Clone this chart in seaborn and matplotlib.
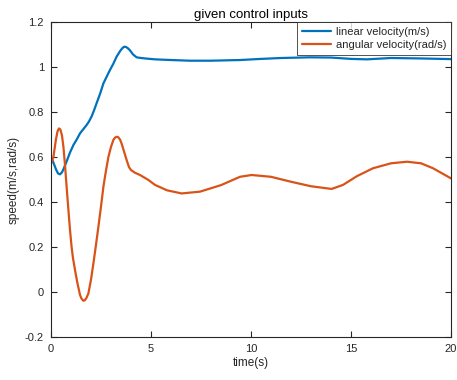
import matplotlib
matplotlib.use("Agg")
import matplotlib.pyplot as plt
import seaborn as sns
import pandas as pd

# Linear velocity (m/s) readings
t_lin = [0.0, 0.12, 0.25, 0.35, 0.45, 0.55, 0.62, 0.78, 0.95, 1.12, 1.3, 1.45, 1.6, 1.78, 1.9, 2.03, 2.15, 2.28, 2.45,
         2.62, 2.8, 2.95, 3.12, 3.28, 3.45, 3.55, 3.65, 3.75, 3.85, 3.95, 4.1, 4.28, 4.5, 4.7, 5.2, 6.0,
         6.95, 8.0, 9.45, 10.5, 11.5, 12.95, 14.0, 15.0, 15.8, 17.0, 18.5, 20.0]
v_lin = [0.60, 0.575, 0.545, 0.527, 0.523, 0.532, 0.545, 0.58, 0.62, 0.653, 0.68, 0.705, 0.722, 0.742, 0.758, 0.78, 0.807, 0.839, 0.88,
         0.927, 0.96, 0.987, 1.015, 1.046, 1.07, 1.082, 1.09, 1.089, 1.083, 1.074, 1.056, 1.043, 1.04, 1.038, 1.034, 1.031,
         1.028, 1.028, 1.031, 1.036, 1.04, 1.043, 1.042, 1.036, 1.034, 1.04, 1.038, 1.035]

# Angular velocity (rad/s) readings
t_ang = [0.0, 0.12, 0.25, 0.33, 0.4, 0.47, 0.55, 0.62, 0.7, 0.78, 0.87, 0.95, 1.03, 1.1, 1.2, 1.32, 1.45, 1.53, 1.62, 1.7, 1.78, 1.87,
         2.0, 2.12, 2.25, 2.37, 2.5, 2.62, 2.75, 2.87, 3.0, 3.12, 3.2, 3.28, 3.36, 3.45, 3.53, 3.65, 3.78,
         3.9, 4.0, 4.2, 4.45, 4.87, 5.2, 5.8, 6.53, 7.45, 8.5, 9.45, 10.03, 11.0, 12.0, 13.0,
         14.03, 14.6, 15.3, 16.1, 17.0, 17.8, 18.5, 19.1, 20.0]
v_ang = [0.57, 0.60, 0.68, 0.715, 0.727, 0.722, 0.695, 0.646, 0.565, 0.468, 0.365, 0.276, 0.2, 0.15, 0.098, 0.04, -0.013, -0.03, -0.039, -0.036, -0.025, -0.006,
         0.055, 0.127, 0.21, 0.29, 0.38, 0.468, 0.54, 0.60, 0.645, 0.676, 0.686, 0.69, 0.688, 0.678, 0.66, 0.625, 0.587,
         0.555, 0.542, 0.53, 0.52, 0.498, 0.476, 0.452, 0.438, 0.446, 0.475, 0.512, 0.52, 0.512, 0.49, 0.47,
         0.458, 0.476, 0.515, 0.55, 0.572, 0.579, 0.572, 0.55, 0.505]

labels = ["linear velocity(m/s)", "angular velocity(rad/s)"]
colors = ["#0072BD", "#D95319"]

df = pd.concat([
    pd.DataFrame({"time": t_lin, "speed": v_lin, "series": labels[0]}),
    pd.DataFrame({"time": t_ang, "speed": v_ang, "series": labels[1]}),
])

sns.set_theme(style="white")
plt.rcParams["font.family"] = ["Liberation Sans", "DejaVu Sans"]

fig = plt.figure(figsize=(4.57, 3.80), dpi=100)
ax = fig.add_axes([51 / 457, 1 - 337 / 380, 400 / 457, 315 / 380])

sns.lineplot(data=df, x="time", y="speed", hue="series", palette=colors,
             hue_order=labels, linewidth=1.6, ax=ax, sort=True, estimator=None)

ax.set_xlim(0, 20)
ax.set_ylim(-0.2, 1.2)
ax.set_xticks([0, 5, 10, 15, 20])
ax.set_yticks([-0.2, 0, 0.2, 0.4, 0.6, 0.8, 1.0, 1.2])
ax.set_yticklabels(["-0.2", "0", "0.2", "0.4", "0.6", "0.8", "1", "1.2"])
ax.tick_params(direction="in", length=4, width=0.8, top=True, right=True,
               bottom=True, left=True, labelsize=8, colors="#262626", pad=5)
for s in ax.spines.values():
    s.set_visible(True)
    s.set_color("#262626")
    s.set_linewidth(0.8)

ax.set_xlabel("time(s)", fontsize=8.5, color="#262626", labelpad=2)
ax.set_ylabel("speed(m/s,rad/s)", fontsize=8.5, color="#262626", labelpad=4)
ax.set_title("given control inputs", fontsize=9.5, color="#000000", pad=3)

leg = ax.legend(loc="upper right", fontsize=8.0, frameon=True, fancybox=False,
                borderaxespad=0, handlelength=2.6, borderpad=0.45, labelspacing=0.3,
                handletextpad=0.4)
leg.get_frame().set_edgecolor("#262626")
leg.get_frame().set_linewidth(0.7)
for line in leg.get_lines():
    line.set_linewidth(1.6)

fig.savefig("out.png", dpi=100)
